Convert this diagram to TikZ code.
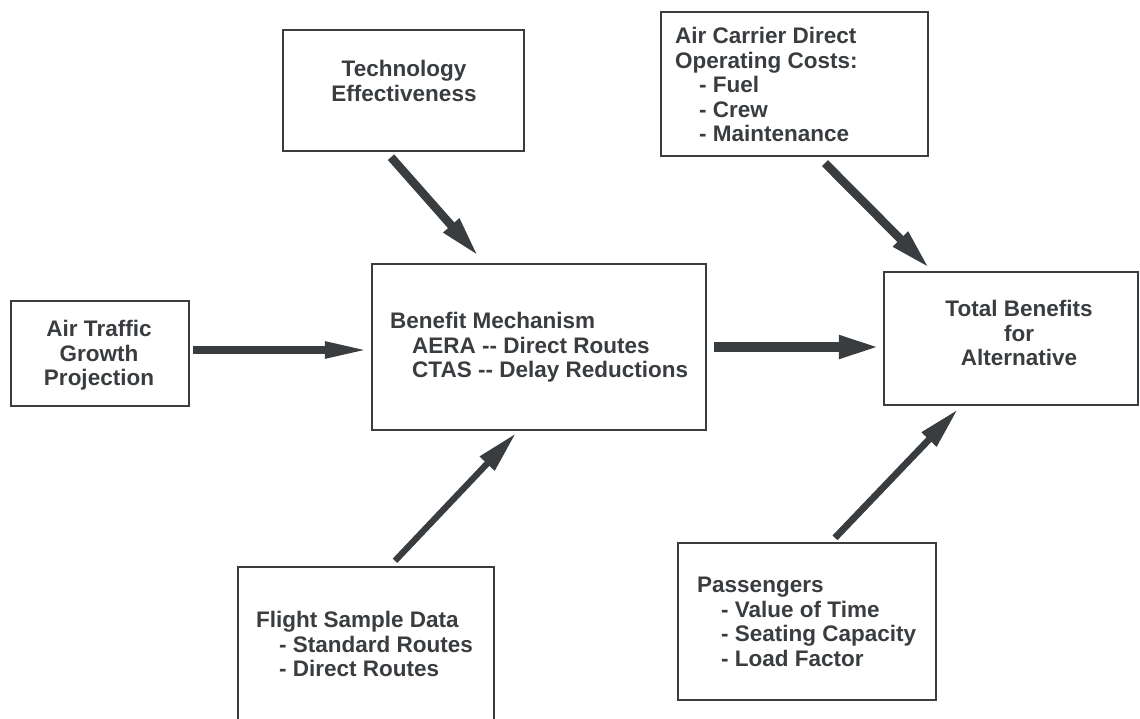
\documentclass[tikz,border=0pt]{standalone}
\usepackage{fontspec}
\setmainfont{Liberation Sans}
\usetikzlibrary{arrows.meta}
\definecolor{ink}{RGB}{58,61,64}
\begin{document}
\begin{tikzpicture}[x=1pt,y=-1pt,
  box/.style={draw=ink, line width=2.4pt, inner sep=0pt, rectangle},
  txt/.style={text=ink, inner sep=0pt, font=\bfseries\fontsize{22.5}{24.5}\selectfont},
  flow/.style={draw=ink, line width=8.5pt, -{Triangle[length=42pt,width=19pt]}},
]
\useasboundingbox (0,0) rectangle (1140,719);
\clip (0,0) rectangle (1140,719);

% boxes
\node[box, minimum width=241pt, minimum height=121pt] (tech) at (403.5,90.5) {};
\node[box, minimum width=267pt, minimum height=144pt] (ac)   at (794.5,84) {};
\node[box, minimum width=178pt, minimum height=105pt] (atg)  at (100,353.5) {};
\node[box, minimum width=334pt, minimum height=166pt] (ben)  at (539,347) {};
\node[box, minimum width=254pt, minimum height=133pt] (tot)  at (1011,338.5) {};
\node[box, minimum width=256pt, minimum height=220pt] (fsd)  at (366,677) {};
\node[box, minimum width=258pt, minimum height=157pt] (pas)  at (807,621.5) {};

% texts
\node[txt, align=center, anchor=north] (techtxt) at (404,60) {Technology\\Effectiveness};
\node[txt, align=left, anchor=north west] (actxt) at (675,27)
  {Air Carrier Direct\\Operating Costs:\\\hspace*{24pt}- Fuel\\\hspace*{24pt}- Crew\\\hspace*{24pt}- Maintenance};
\node[txt, align=center, anchor=north] (atgtxt) at (99,320) {Air Traffic\\Growth\\Projection};
\node[txt, align=left, anchor=north west] (bentxt) at (390,312)
  {Benefit Mechanism\\\hspace*{22pt}AERA -{}- Direct Routes\\\hspace*{22pt}CTAS -{}- Delay Reductions};
\node[txt, align=center, anchor=north] (tottxt) at (1019,300) {Total Benefits\\for\\Alternative};
\node[txt, align=left, anchor=north west] (fsdtxt) at (256,611)
  {Flight Sample Data\\\hspace*{23pt}- Standard Routes\\\hspace*{23pt}- Direct Routes};
\node[txt, align=left, anchor=north west] (pastxt) at (697,577)
  {Passengers\\\hspace*{24pt}- Value of Time\\\hspace*{24pt}- Seating Capacity\\\hspace*{24pt}- Load Factor};

% connectors
\draw[flow] ([xshift=-12.5pt,yshift=-5pt]tech.south) -- ([xshift=-60pt,yshift=6pt]ben.north);
\draw[flow] ([xshift=30.5pt,yshift=-6pt]ac.south) -- ([xshift=-81pt,yshift=2pt]tot.north);
\draw[flow, line width=8pt, -{Triangle[length=46pt,width=15pt]}]
  ([xshift=3pt,yshift=3.5pt]atg.east) -- ([yshift=-3pt]ben.west);
\draw[flow, line width=10pt, -{Triangle[length=42pt,width=21pt]}]
  ([xshift=7pt]ben.east) -- ([xshift=-2pt,yshift=-8.5pt]tot.west);
\draw[flow, line width=6.3pt] ([xshift=29pt,yshift=5pt]fsd.north) -- ([xshift=-23pt,yshift=-2pt]ben.south);
\draw[flow, line width=6.8pt] ([xshift=28pt,yshift=4pt]pas.north) -- ([xshift=-53pt,yshift=-3pt]tot.south);
\end{tikzpicture}
\end{document}
